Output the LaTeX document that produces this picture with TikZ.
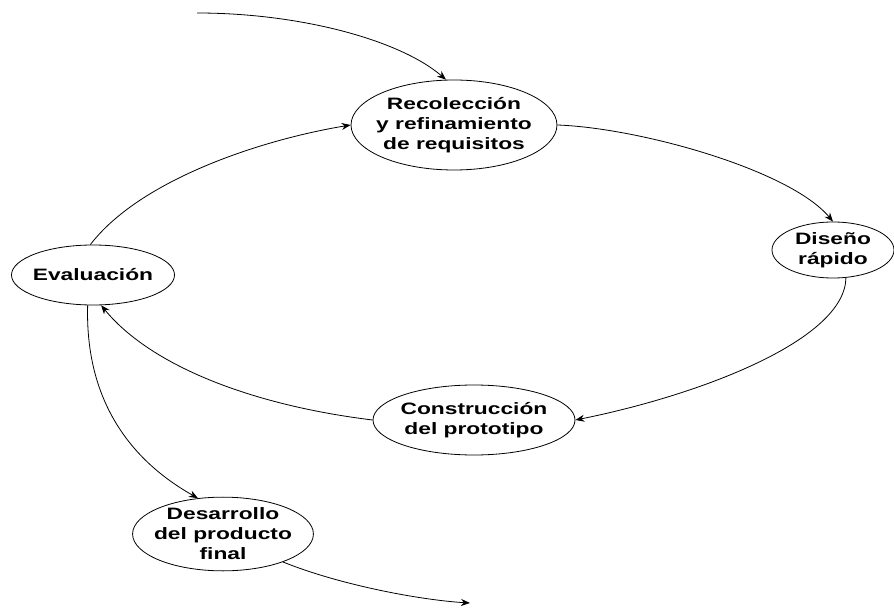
\documentclass[tikz,border=0pt]{standalone}
\usepackage{fontspec}
\newfontfamily\etiqueta[FakeStretch=1.38]{Liberation Sans}
\usetikzlibrary{shapes.geometric,arrows.meta}

\begin{document}
\begin{tikzpicture}[x=1pt,y=1pt,
  fase/.style={draw,ellipse,line width=0.8pt,inner xsep=-5pt,inner ysep=0pt,align=center,
    font=\etiqueta\bfseries\fontsize{16.5}{20}\selectfont},
  flecha/.style={line width=0.8pt,-{Stealth[length=9pt,width=7pt]}}]
\useasboundingbox (0,0) rectangle (894,-612);
\node[fase,minimum width=204pt,minimum height=90pt] (rec) at (454,-125) {Recolección\\y refinamiento\\de requisitos};
\node[fase,minimum width=122pt,minimum height=56pt] (dis) at (833,-250) {Diseño\\rápido};
\node[fase,minimum width=202pt,minimum height=70pt] (con) at (474,-420) {Construcción\\del prototipo};
\node[fase,minimum width=163pt,minimum height=60pt] (eva) at (93,-275) {Evaluación};
\node[fase,minimum width=180pt,minimum height=72pt] (des) at (223,-534) {Desarrollo\\del producto\\final};
\coordinate (inicio) at (197,-13);
\coordinate (fin) at (470,-603);
\draw[flecha] (inicio) .. controls (300,-13) and (400,-40) .. (rec.100);
\draw[flecha] (rec.east) .. controls (640,-128) and (790,-170) .. (dis.north);
\draw[flecha] (dis.-65) .. controls (845,-340) and (700,-395) .. (con.east);
\draw[flecha] (con.west) .. controls (250,-405) and (150,-365) .. (eva.-75);
\draw[flecha] (eva.95) .. controls (140,-180) and (260,-140) .. (rec.west);
\draw[flecha] (eva.-100) .. controls (85,-400) and (130,-460) .. (des.125);
\draw[flecha] (des.-25) .. controls (340,-585) and (420,-600) .. (fin);
\end{tikzpicture}
\end{document}
